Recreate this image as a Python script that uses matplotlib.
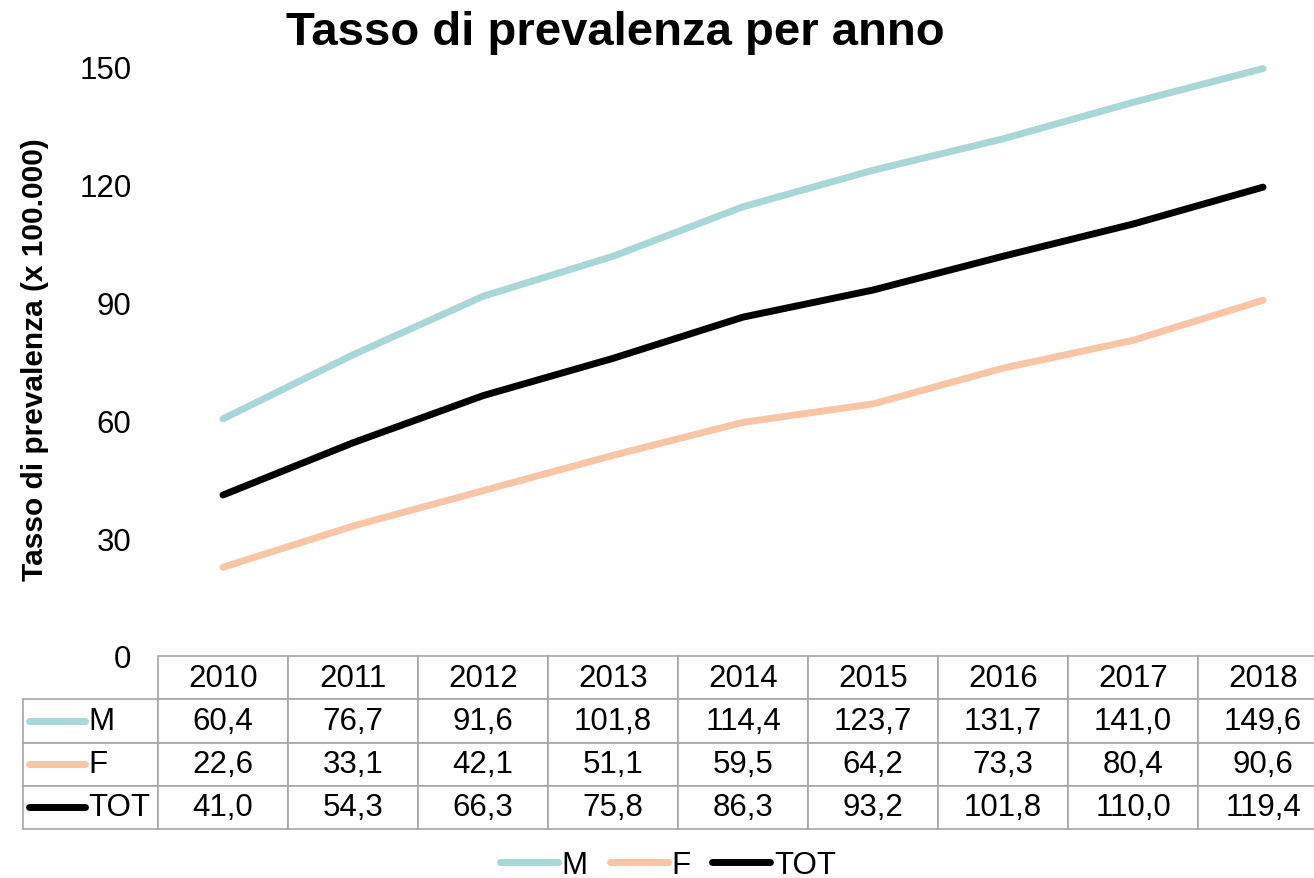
import matplotlib
matplotlib.use('Agg')
import matplotlib.pyplot as plt
from matplotlib.lines import Line2D

plt.rcParams['font.family'] = ['Liberation Sans', 'DejaVu Sans']

years = [2010, 2011, 2012, 2013, 2014, 2015, 2016, 2017, 2018]
m_vals = [60.4, 76.7, 91.6, 101.8, 114.4, 123.7, 131.7, 141.0, 149.6]
f_vals = [22.6, 33.1, 42.1, 51.1, 59.5, 64.2, 73.3, 80.4, 90.6]
tot_vals = [41.0, 54.3, 66.3, 75.8, 86.3, 93.2, 101.8, 110.0, 119.4]
series_names = ['M', 'F', 'TOT']
colors = {'M': '#A9D7D7', 'F': '#F8C6A6', 'TOT': '#000000'}
yticks = [0, 30, 60, 90, 120, 150]

series = dict(zip(series_names, [m_vals, f_vals, tot_vals]))
FS = 22.5

fig = plt.figure(figsize=(13.14, 8.79), dpi=100)
W, H = 1314, 879
AW = 1170  # plot area runs a little past the right edge of the picture
ax = fig.add_axes([158 / W, 1 - 657 / H, AW / W, 589 / H])

for name in series_names:
    ax.plot(years, series[name], color=colors[name], lw=5, solid_capstyle='round',
            label=name, clip_on=False)

ax.set_xlim(years[0] - 0.5, years[-1] + 0.5)
ax.set_ylim(0, 150)
ax.set_yticks(yticks)
ax.set_xticks([])
ax.tick_params(axis='y', length=0, pad=19, labelsize=FS)
for s in ax.spines.values():
    s.set_visible(False)

# data table under the axes
fmt = lambda v: f'{v:.1f}'.replace('.', ',')
cell_text = [[''] + [fmt(v) for v in series[name]] for name in series_names]
col_labels = [''] + [str(y) for y in years]
bx, bw = -135 / AW, 1 + 135 / AW
bh = 173 / 589
tbl = ax.table(cellText=cell_text, colLabels=col_labels, cellLoc='center',
               colWidths=[135] + [130] * len(years),
               bbox=[bx, -bh, bw, bh])
tbl.auto_set_font_size(False)
tbl.set_fontsize(FS)
for (r, c), cell in tbl.get_celld().items():
    cell.set_edgecolor('#A6A6A6')
    cell.set_linewidth(1.2)
    if r == 0 and c == 0:
        cell.visible_edges = ''

rh = bh / 4
for i, name in enumerate(series_names):
    yc = -rh * (i + 1.5)
    ax.add_line(Line2D([-129 / AW, -73 / AW], [yc, yc], transform=ax.transAxes,
                       color=colors[name], lw=5, solid_capstyle='round', clip_on=False))
    ax.text(-70 / AW, yc, name, transform=ax.transAxes, ha='left', va='center',
            fontsize=FS)

fig.text(615 / W, 1 - 33 / H, 'Tasso di prevalenza per anno', ha='center', va='center',
         fontsize=34, fontweight='bold')
fig.text(35 / W, 1 - 360 / H, 'Tasso di prevalenza (x 100.000)', ha='center', va='center',
         rotation=90, fontsize=21.5, fontweight='bold')

fig.legend(loc='center', bbox_to_anchor=(668 / W, 1 - 866 / H), ncol=3, frameon=False,
           fontsize=FS, handlelength=1.85, handletextpad=0.12, columnspacing=0.7)

fig.savefig('out.png', dpi=100)
